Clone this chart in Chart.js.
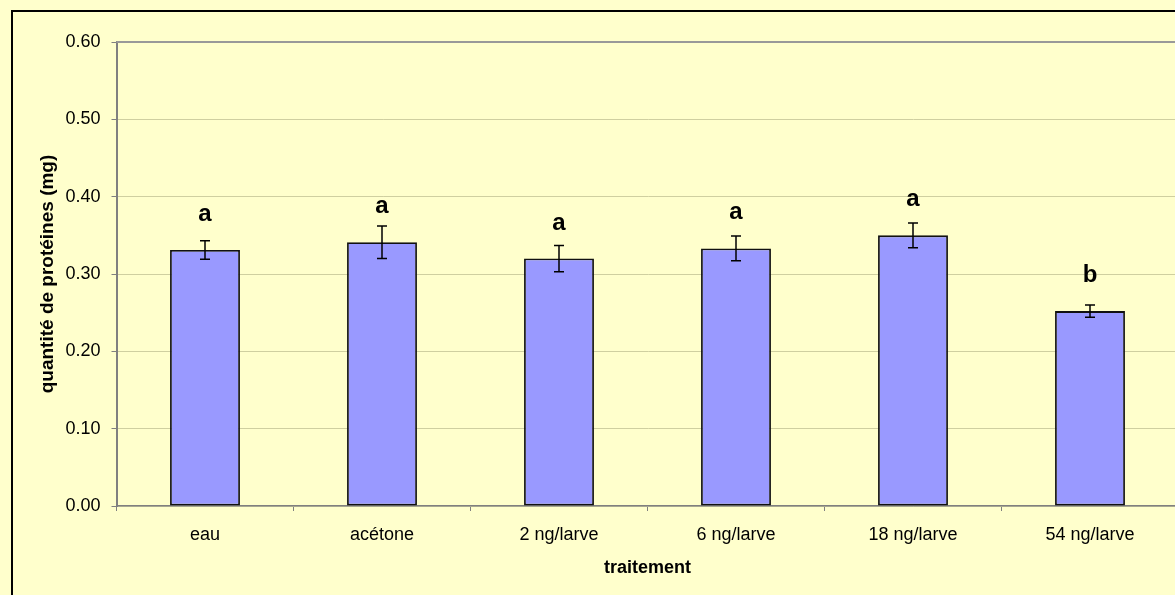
<!DOCTYPE html>
<html>
<head>
<meta charset="utf-8">
<script src="https://cdn.jsdelivr.net/npm/chart.js@4/dist/chart.umd.min.js"></script>
<style>
  html, body { margin: 0; padding: 0; background: #FFFFCC; overflow: hidden; }
  #wrap { width: 1200px; height: 595px; }
</style>
</head>
<body>
<div id="wrap"><canvas id="c" width="1200" height="595"></canvas></div>
<script>
// Treatments and measured protein content (mg per larva)
const categories = ['eau', 'acétone', '2 ng/larve', '6 ng/larve', '18 ng/larve', '54 ng/larve'];
const proteinMeans = [0.331, 0.341, 0.320, 0.333, 0.350, 0.252];
const proteinErrors = [0.012, 0.021, 0.017, 0.016, 0.016, 0.008];
const groupLetters = ['a', 'a', 'a', 'a', 'a', 'b'];
const yTickValues = [0.00, 0.10, 0.20, 0.30, 0.40, 0.50, 0.60];

const FONT = '"Liberation Sans", Arial, sans-serif';

// Page background and the outer frame of the chart
const frame = {
  id: 'frame',
  beforeDraw(chart) {
    const ctx = chart.ctx;
    ctx.save();
    ctx.fillStyle = '#FFFFCC';
    ctx.fillRect(0, 0, chart.width, chart.height);
    ctx.strokeStyle = '#000000';
    ctx.lineWidth = 2;
    ctx.strokeRect(12, 11, chart.width + 40, chart.height + 40);
    ctx.restore();
  },
  afterDraw(chart) {
    const ctx = chart.ctx;
    const a = chart.chartArea;
    ctx.save();
    ctx.strokeStyle = '#999999';
    ctx.lineWidth = 2;
    ctx.beginPath();
    ctx.moveTo(a.left, a.top);
    ctx.lineTo(a.right, a.top);
    ctx.stroke();
    ctx.restore();
  }
};

// Standard-error whiskers and significance letters above each bar
const whiskers = {
  id: 'whiskers',
  afterDatasetsDraw(chart) {
    const ctx = chart.ctx;
    const meta = chart.getDatasetMeta(0);
    const y = chart.scales.y;
    ctx.save();
    ctx.strokeStyle = '#000000';
    ctx.lineWidth = 1.5;
    meta.data.forEach((bar, i) => {
      const x = bar.x;
      const hi = y.getPixelForValue(proteinMeans[i] + proteinErrors[i]);
      const lo = y.getPixelForValue(proteinMeans[i] - proteinErrors[i]);
      ctx.beginPath();
      ctx.moveTo(x, hi); ctx.lineTo(x, lo);
      ctx.moveTo(x - 5, hi); ctx.lineTo(x + 5, hi);
      ctx.moveTo(x - 5, lo); ctx.lineTo(x + 5, lo);
      ctx.stroke();
      ctx.fillStyle = '#000000';
      ctx.font = 'bold 24px ' + FONT;
      ctx.textAlign = 'center';
      ctx.textBaseline = 'alphabetic';
      ctx.fillText(groupLetters[i], x, bar.y - 29);
    });
    ctx.restore();
  }
};

new Chart(document.getElementById('c'), {
  type: 'bar',
  data: {
    labels: categories,
    datasets: [{
      data: proteinMeans,
      backgroundColor: '#9999FF',
      borderColor: '#111111',
      borderWidth: 1.8,
      borderSkipped: false,
      categoryPercentage: 1.0,
      barPercentage: 0.395
    }]
  },
  options: {
    responsive: false,
    animation: false,
    devicePixelRatio: 1,
    layout: { padding: { left: 0, top: 42, right: 21.5, bottom: 0 } },
    plugins: { legend: { display: false }, tooltip: { enabled: false } },
    scales: {
      x: {
        offset: true,
        grid: { display: true, drawOnChartArea: false, offset: true, tickLength: 5, color: '#808080', lineWidth: 1 },
        border: { display: true, color: '#808080', width: 1.5 },
        ticks: { color: '#000000', font: { family: FONT, size: 18 }, padding: 13, maxRotation: 0, autoSkip: false },
        title: { display: true, text: 'traitement', color: '#000000', font: { family: FONT, size: 18, weight: 'bold' }, padding: { top: 0, bottom: 16 } },
        afterFit(scale) { scale.height = 89; }
      },
      y: {
        min: 0, max: 0.6,
        afterBuildTicks(scale) { scale.ticks = yTickValues.map(v => ({ value: v })); },
        grid: { color: (c) => (c.tick && c.tick.value === 0.6 ? 'rgba(0,0,0,0)' : '#CFCFA0'), lineWidth: 1, tickLength: 5, tickColor: '#808080' },
        border: { display: true, color: '#808080', width: 2 },
        ticks: { color: '#000000', font: { family: FONT, size: 18 }, padding: 11, callback: (v) => Number(v).toFixed(2) },
        title: { display: true, text: 'quantité de protéines (mg)', color: '#000000', font: { family: FONT, size: 19, weight: 'bold' }, padding: { top: 36, bottom: 0 } },
        afterFit(scale) { scale.width = 116.5; }
      }
    }
  },
  plugins: [frame, whiskers]
});
</script>
</body>
</html>
